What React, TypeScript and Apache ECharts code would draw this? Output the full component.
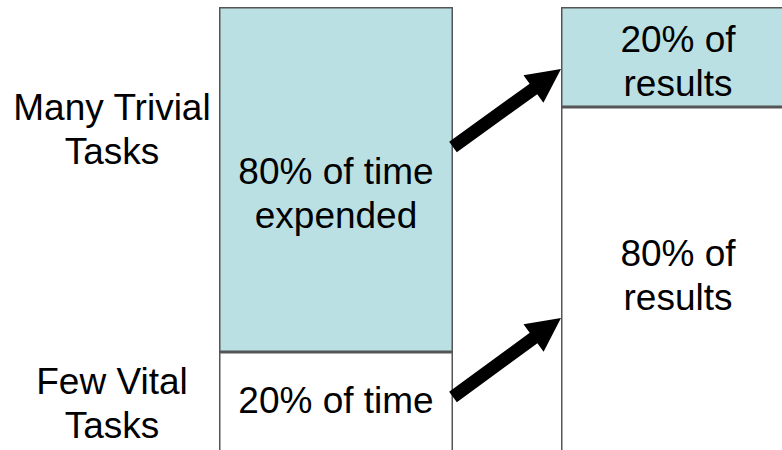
import React, { useEffect, useRef } from "react";
import * as echarts from "echarts";

const categories = ["Time", "Results"];
// stacked segment sizes (bottom segment, top segment)
const bottomValues = [31, 80];
const topValues = [69, 20];
const bottomLabels = ["20% of time", "80% of\nresults"];
const topLabels = ["80% of time\nexpended", "20% of\nresults"];
const sideLabels = ["Many Trivial\nTasks", "Few Vital\nTasks"];

const FONT = "'Liberation Sans', Arial, sans-serif";
const FS = 37;

function arrow(sx: number, sy: number, tx: number, ty: number) {
  const dx = tx - sx, dy = ty - sy;
  const len = Math.hypot(dx, dy);
  const ux = dx / len, uy = dy / len;
  const nx = -uy, ny = ux;
  const hl = 34, hw = 17, sw = 6.5;
  const bx = tx - ux * hl, by = ty - uy * hl;
  return {
    type: "polygon",
    shape: {
      points: [
        [sx + nx * sw, sy + ny * sw],
        [bx + nx * sw, by + ny * sw],
        [bx + nx * hw, by + ny * hw],
        [tx, ty],
        [bx - nx * hw, by - ny * hw],
        [bx - nx * sw, by - ny * sw],
        [sx - nx * sw, sy - ny * sw],
      ],
    },
    style: { fill: "#000" },
    z: 10,
  };
}

export default function App() {
  const ref = useRef<HTMLDivElement>(null);
  useEffect(() => {
    const chart = echarts.init(ref.current!, null, { renderer: "svg" });
    const bottomOffsets = [-29, -32];
    const topOffsets = [14, 4];
    const labelStyle = {
      show: true,
      position: "inside",
      color: "#000",
      fontSize: FS,
      fontFamily: FONT,
      lineHeight: 44,
    };
    chart.setOption({
      animation: false,
      backgroundColor: "#fff",
      grid: {
        left: 165,
        top: 7,
        width: 684,
        height: 500,
        outerBoundsMode: "none",
        containLabel: false,
      },
      xAxis: { type: "category", data: categories, show: false },
      yAxis: { type: "value", min: 0, max: 100, show: false },
      series: [
        {
          type: "bar",
          stack: "a",
          barWidth: 234,
          data: bottomValues.map((v, i) => ({
            value: v,
            label: { ...labelStyle, offset: [0, bottomOffsets[i]], formatter: bottomLabels[i] },
          })),
          itemStyle: { color: "#ffffff", borderColor: "#555", borderWidth: 1.5 },
        },
        {
          type: "bar",
          stack: "a",
          barWidth: 234,
          data: topValues.map((v, i) => ({
            value: v,
            label: { ...labelStyle, offset: [0, topOffsets[i]], formatter: topLabels[i] },
          })),
          itemStyle: { color: "#BBE0E3", borderColor: "#555", borderWidth: 1.5 },
        },
      ],
      graphic: [
        {
          type: "text",
          style: {
            text: sideLabels[0], x: 112, y: 129, align: "center", verticalAlign: "middle",
            fontSize: FS, fontFamily: FONT, lineHeight: 44, fill: "#000",
          },
        },
        {
          type: "text",
          style: {
            text: sideLabels[1], x: 112, y: 403, align: "center", verticalAlign: "middle",
            fontSize: FS, fontFamily: FONT, lineHeight: 44, fill: "#000",
          },
        },
        arrow(453, 147, 561, 69),
        arrow(453, 397, 561, 318),
      ],
    });
    return () => chart.dispose();
  }, []);
  return (
    <div
      ref={ref}
      style={{ position: "fixed", left: 0, top: 0, width: 782, height: 450 }}
    />
  );
}
